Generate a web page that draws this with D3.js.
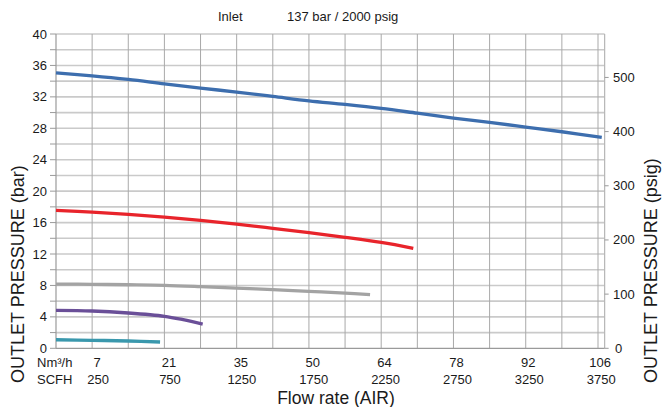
<!DOCTYPE html>
<html><head><meta charset="utf-8">
<script src="https://cdn.jsdelivr.net/npm/d3@7"></script>
<style>
html,body{margin:0;padding:0;background:#fff;}
svg text{font-family:"Liberation Sans",Arial,sans-serif;fill:#1a1a1a;}
</style></head>
<body><svg id="c" width="663" height="407"></svg>
<script>
// ---- data ----
const nm3Labels = ["7","21","35","50","64","78","92","106"];
const scfhTicks = [250,750,1250,1750,2250,2750,3250,3750];
const barTicks = [0,4,8,12,16,20,24,28,32,36,40];
const psigTicks = [0,100,200,300,400,500];

const blueFlow = [0,250,500,750,1000,1250,1500,1750,2000,2250,2500,2750,3000,3250,3500,3776];
const blueBar  = [35.06,34.68,34.22,33.66,33.12,32.61,32.06,31.5,31.04,30.53,29.92,29.3,28.75,28.16,27.56,26.84];
const redFlow  = [0,250,500,750,1000,1250,1500,1750,2000,2250,2472];
const redBar   = [17.56,17.34,17.05,16.7,16.28,15.81,15.27,14.71,14.12,13.47,12.72];
const grayFlow = [0,250,500,750,1000,1250,1500,1750,2000,2173];
const grayBar  = [8.18,8.14,8.09,8.02,7.86,7.67,7.46,7.25,7.02,6.84];
const purpleFlow = [0,250,500,750,880,1015];
const purpleBar  = [4.83,4.75,4.49,4.07,3.64,3.09];
const tealFlow = [0,250,500,720];
const tealBar  = [1.09,1.02,0.93,0.8];

const seriesList = [
  {flow: blueFlow, bar: blueBar, color: "#3d6eae"},
  {flow: redFlow, bar: redBar, color: "#e8242b"},
  {flow: grayFlow, bar: grayBar, color: "#a3a3a3"},
  {flow: purpleFlow, bar: purpleBar, color: "#6a4f98"},
  {flow: tealFlow, bar: tealBar, color: "#3a98ad"}
];

// ---- scales ----
const svg = d3.select("#c");
const x = d3.scaleLinear().domain([0,3750]).range([56,598]);
const y = d3.scaleLinear().domain([0,40]).range([348.3,34]);
const yPsig = d3.scaleLinear().domain([0,40*14.5038]).range([348.3,34]);
const xRight = x(3796);

const g = svg.append("g");
g.selectAll("line.h").data(d3.range(2,41,2)).join("line")
  .attr("x1",x(0)).attr("x2",xRight)
  .attr("y1",d=>y(d)).attr("y2",d=>y(d))
  .attr("stroke","#cacaca").attr("stroke-width",1.6);
g.selectAll("line.v").data(d3.range(250,3751,250)).join("line")
  .attr("x1",d=>x(d)).attr("x2",d=>x(d))
  .attr("y1",y(40)).attr("y2",y(0))
  .attr("stroke","#a9a9a9").attr("stroke-width",1);
g.append("line").attr("x1",xRight).attr("x2",xRight).attr("y1",y(40)).attr("y2",y(0))
  .attr("stroke","#b5b5b5").attr("stroke-width",1.2);
g.append("line").attr("x1",x(0)).attr("x2",x(0)).attr("y1",y(40)).attr("y2",y(0))
  .attr("stroke","#9a9a9a").attr("stroke-width",1.2);
g.append("line").attr("x1",x(0)).attr("x2",xRight).attr("y1",y(0)).attr("y2",y(0))
  .attr("stroke","#9a9a9a").attr("stroke-width",1.2);

g.selectAll("line.lt").data(d3.range(0,41,2)).join("line")
  .attr("x1",x(0)-6).attr("x2",x(0)).attr("y1",d=>y(d)).attr("y2",d=>y(d))
  .attr("stroke","#9a9a9a").attr("stroke-width",1);
svg.append("g").selectAll("text").data(barTicks).join("text")
  .attr("x",47).attr("y",d=>y(d)).attr("dy","0.35em")
  .attr("text-anchor","end").attr("font-size",13).text(d=>d);

g.selectAll("line.rt").data(psigTicks).join("line")
  .attr("x1",xRight).attr("x2",xRight+4).attr("y1",d=>yPsig(d)).attr("y2",d=>yPsig(d))
  .attr("stroke","#9a9a9a").attr("stroke-width",1);
svg.append("g").selectAll("text").data(psigTicks).join("text")
  .attr("x",d=> d===0 ? 615 : 613).attr("y",d=>yPsig(d)).attr("dy","0.35em")
  .attr("text-anchor","start").attr("font-size",13).text(d=>d);

svg.append("text").attr("x",37).attr("y",367).attr("font-size",13).text("Nm³/h");
svg.append("text").attr("x",37).attr("y",384).attr("font-size",13).text("SCFH");
svg.append("g").selectAll("text").data(nm3Labels).join("text")
  .attr("x",(d,i)=>x(scfhTicks[i])+5-0.4*i).attr("y",367)
  .attr("text-anchor","middle").attr("font-size",13).text(d=>d);
svg.append("g").selectAll("text").data(scfhTicks).join("text")
  .attr("x",(d,i)=>x(d)+6-0.4*i).attr("y",384)
  .attr("text-anchor","middle").attr("font-size",13).text(d=>d);

svg.append("text").attr("x",218).attr("y",21).attr("font-size",13).text("Inlet");
svg.append("text").attr("x",287).attr("y",21).attr("font-size",13).text("137 bar / 2000 psig");
svg.append("text").attr("x",336).attr("y",404).attr("text-anchor","middle")
  .attr("font-size",17.5).text("Flow rate (AIR)");
svg.append("text").attr("transform","translate(24,383) rotate(-90)")
  .attr("font-size",18).text("OUTLET PRESSURE (bar)");
svg.append("text").attr("transform","translate(657,383) rotate(-90)")
  .attr("font-size",18).text("OUTLET PRESSURE (psig)");

const line = d3.line().x(d=>x(d[0])).y(d=>y(d[1])).curve(d3.curveCatmullRom.alpha(0.5));
svg.append("g").selectAll("path").data(seriesList).join("path")
  .attr("d",s=>line(s.flow.map((f,i)=>[f,s.bar[i]])))
  .attr("fill","none").attr("stroke",s=>s.color).attr("stroke-width",3.3)
  .attr("stroke-linecap","butt");
</script></body></html>
